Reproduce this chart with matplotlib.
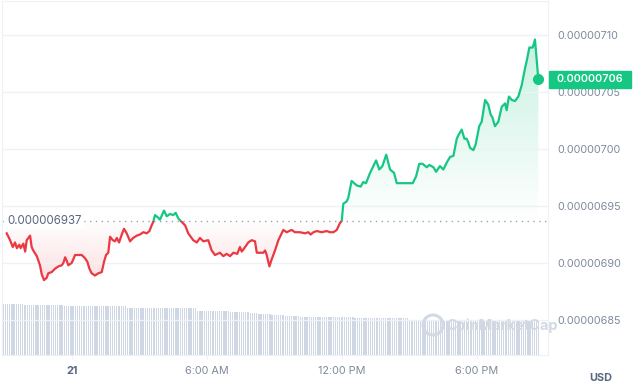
import matplotlib
import matplotlib.pyplot as plt
import matplotlib.transforms as mtransforms
from matplotlib.colors import to_rgb
from matplotlib.patches import Rectangle, Ellipse
import numpy as np

matplotlib.use("Agg")
plt.rcParams["font.family"] = ["Inter", "DejaVu Sans"]

# time in hours relative to midnight of the 21st (negative = evening of the 20th)
hours = [
    -2.92, -2.77, -2.65, -2.55, -2.47, -2.36, -2.30, -2.18, -2.10, -2.03,
    -1.88, -1.81, -1.74, -1.58, -1.44, -1.36, -1.26, -1.14, -1.07, -0.92,
    -0.77, -0.62, -0.47, -0.40, -0.32, -0.25, -0.18, -0.03, 0.04, 0.12,
    0.42, 0.57, 0.67, 0.76, 0.86, 1.01, 1.16, 1.31, 1.41, 1.50,
    1.60, 1.68, 1.80, 1.90, 1.98, 2.08, 2.20, 2.30, 2.42, 2.57,
    2.71, 2.87, 3.01, 3.16, 3.31, 3.43, 3.53, 3.60, 3.68, 3.81,
    3.90, 4.08, 4.20, 4.35, 4.49, 4.60, 4.72, 4.87, 5.02, 5.16,
    5.38, 5.54, 5.68, 5.83, 6.05, 6.20, 6.35, 6.57, 6.72, 6.87,
    7.02, 7.17, 7.34, 7.46, 7.54, 7.69, 7.83, 7.98, 8.13, 8.21,
    8.50, 8.58, 8.65, 8.77, 8.87, 9.02, 9.17, 9.39, 9.54, 9.76,
    9.91, 10.13, 10.36, 10.50, 10.61, 10.73, 10.88, 11.10, 11.32, 11.47,
    11.62, 11.77, 11.91, 11.99, 12.06, 12.21, 12.28, 12.43, 12.66, 12.83,
    12.95, 13.07, 13.25, 13.52, 13.66, 13.80, 13.97, 14.14, 14.32, 14.44,
    14.58, 14.81, 14.95, 15.15, 15.30, 15.44, 15.59, 15.77, 15.89, 16.07,
    16.19, 16.36, 16.51, 16.69, 16.81, 16.96, 17.11, 17.18, 17.33, 17.45,
    17.55, 17.62, 17.70, 17.85, 17.95, 18.11, 18.22, 18.37, 18.51, 18.62,
    18.69, 18.81, 18.96, 19.11, 19.26, 19.33, 19.43, 19.56, 19.70, 19.85,
    20.00, 20.15, 20.22, 20.34, 20.49, 20.59, 20.74,
]

# price in units of 1e-8 USD
price_e8 = [
    692.6, 692.0, 691.4, 691.8, 691.3, 691.6, 691.3, 691.7, 691.0, 692.0,
    692.4, 691.4, 691.1, 690.6, 689.8, 689.0, 688.5, 688.7, 689.1, 689.2,
    689.5, 689.7, 689.8, 690.0, 690.5, 690.2, 689.8, 690.0, 690.3, 690.7,
    690.7, 690.4, 690.1, 689.5, 689.1, 688.9, 689.1, 689.2, 690.1, 690.7,
    690.9, 692.3, 692.0, 691.9, 692.2, 691.8, 692.5, 693.0, 692.6, 691.9,
    692.2, 692.4, 692.5, 692.7, 692.6, 692.8, 693.3, 693.6, 694.2, 694.0,
    693.8, 694.6, 694.1, 694.3, 694.2, 694.4, 693.9, 693.6, 693.3, 692.6,
    692.0, 691.8, 692.2, 691.9, 692.0, 691.1, 690.7, 690.9, 690.6, 690.8,
    690.6, 690.9, 690.8, 691.4, 691.0, 691.4, 691.8, 692.0, 691.9, 690.9,
    690.9, 691.1, 690.7, 689.7, 690.3, 691.1, 692.0, 692.9, 692.7, 692.9,
    692.7, 692.7, 692.6, 692.7, 692.5, 692.7, 692.8, 692.7, 692.8, 692.7,
    692.7, 692.9, 693.5, 693.7, 695.2, 695.4, 695.7, 697.2, 696.8, 696.7,
    697.1, 697.0, 697.9, 699.0, 698.2, 698.5, 699.5, 698.2, 697.9, 697.0,
    697.0, 697.0, 697.0, 697.0, 697.6, 698.7, 698.7, 698.4, 698.6, 698.4,
    698.0, 698.5, 698.2, 698.9, 699.3, 699.4, 700.9, 701.2, 701.7, 700.9,
    700.9, 700.6, 700.1, 699.9, 700.4, 702.0, 702.4, 704.3, 703.9, 703.0,
    702.8, 702.0, 702.4, 703.7, 704.0, 703.4, 704.6, 704.3, 704.2, 704.6,
    705.6, 707.1, 707.7, 708.9, 708.9, 709.6, 706.1,
]

baseline_e8 = 693.7
baseline_label = "0.000006937"
last_label = "0.00000706"

# volume bars (relative units), read as flat steps
vol_levels = [51, 50, 49, 47, 44, 43, 42, 41, 40, 39, 38, 37.5, 35.5]
vol_counts = [10, 18, 29, 32, 15, 9, 4, 6, 6, 7, 25, 25, 60]

tick_hours = [0, 6, 12, 18]
tick_labels = ["21", "6:00 AM", "12:00 PM", "6:00 PM"]
ytick_e8 = [685, 690, 695, 700, 705, 710]

GREEN = "#16c784"
RED = "#ea3943"
GRID = "#eff2f5"
TXT = "#808a9d"
DARK = "#58667e"

t = np.array(hours)
p = np.array(price_e8) * 1e-8
base = baseline_e8 * 1e-8

fig = plt.figure(figsize=(6.34, 3.91), dpi=100)
ax = fig.add_axes([2 / 634, 36 / 391, 546 / 634, 354 / 391])
axv = ax.twinx()
ax.set_zorder(axv.get_zorder() + 1)
ax.patch.set_visible(False)
trans = mtransforms.blended_transform_factory(ax.transAxes, ax.transData)

xmin, xmax = -3.13, 21.17
ymin, ymax = 681.93e-8, 712.98e-8

# volume
vol = np.repeat(vol_levels, vol_counts)
vt = np.linspace(-3.08, 20.76, len(vol))
axv.bar(vt, vol, width=(vt[1] - vt[0]) * 0.6, color="#cfd6e4", linewidth=0)
axv.set_ylim(0, max(vol_levels) * 354 / 51)
axv.set_yticks([])
for s in axv.spines.values():
    s.set_visible(False)

# gradient fill between price and baseline
fb = ax.fill_between(t, p, base, facecolor="none", edgecolor="none")
yy = np.linspace(p.min(), p.max(), 600)
rgba = np.zeros((600, 1, 4))
up = yy >= base
rgba[up, 0, :3] = to_rgb(GREEN)
rgba[up, 0, 3] = 0.24 * (yy[up] - base) / (p.max() - base)
rgba[~up, 0, :3] = to_rgb(RED)
rgba[~up, 0, 3] = 0.16 * (base - yy[~up]) / (base - p.min())
img = ax.imshow(rgba, extent=[t[0], t[-1], p.min(), p.max()], origin="lower",
                aspect="auto", interpolation="bilinear", zorder=1)
img.set_clip_path(fb.get_paths()[0], transform=ax.transData)

# price line, green above baseline and red below
above = Rectangle((xmin, base), xmax - xmin, ymax - base, transform=ax.transData)
below = Rectangle((xmin, ymin), xmax - xmin, base - ymin, transform=ax.transData)
lg, = ax.plot(t, p, color=GREEN, lw=1.6, zorder=3, solid_joinstyle="round")
lg.set_clip_path(above)
lr, = ax.plot(t, p, color=RED, lw=1.6, zorder=3, solid_joinstyle="round")
lr.set_clip_path(below)
ax.plot(t[-1], p[-1], "o", color=GREEN, ms=7, zorder=4, clip_on=False)

# baseline
ax.axhline(base, color="#9aa3b2", lw=1, ls=(0, (1, 3.2)), zorder=2)
ax.text(5 / 546, base, baseline_label, transform=trans, va="center", ha="left",
        fontsize=8.3, color=DARK, zorder=5,
        bbox=dict(boxstyle="round,pad=0.25", fc="white", ec="none"))

ax.set_xlim(xmin, xmax)
ax.set_ylim(ymin, ymax)

ax.set_yticks(np.array(ytick_e8) * 1e-8)
ax.set_yticklabels([f"{v * 1e-8:.8f}" for v in ytick_e8])
ax.yaxis.tick_right()
ax.tick_params(axis="y", length=0, pad=7, labelsize=7.8, labelcolor=TXT)
ax.grid(axis="y", color=GRID, lw=1)

ax.set_xticks(tick_hours, tick_labels)
ax.tick_params(axis="x", length=3, color=GRID, pad=5, labelsize=7.8, labelcolor=TXT)
first = ax.get_xticklabels()[0]
first.set_fontweight("bold")
first.set_color(DARK)
for s in ax.spines.values():
    s.set_color(GRID)

# last price tag
ax.add_patch(Rectangle((1 + 1 / 546, p[-1] - 0.73e-8), 82 / 546, 1.46e-8,
                       transform=trans, color=GREEN, clip_on=False, zorder=10))
ax.text(1 + 42 / 546, p[-1], last_label, transform=trans, ha="center", va="center",
        color="white", fontsize=7.8, fontweight="semibold", zorder=11, clip_on=False)

# watermark and currency
fig.patches.append(Ellipse((433 / 634, 1 - 325 / 391), 20 / 634, 20 / 391, fill=False,
                           ec="#d3d9e3", lw=2.2, transform=fig.transFigure))
fig.text(502 / 634, 1 - 326 / 391, "CoinMarketCap", ha="center", va="center",
         fontsize=10.5, fontweight="bold", color="#d3d9e3")
fig.text(601 / 634, 1 - 378 / 391, "USD", ha="center", va="center", fontsize=7.8,
         fontweight="bold", color=DARK)

fig.savefig("out.png", dpi=100)
